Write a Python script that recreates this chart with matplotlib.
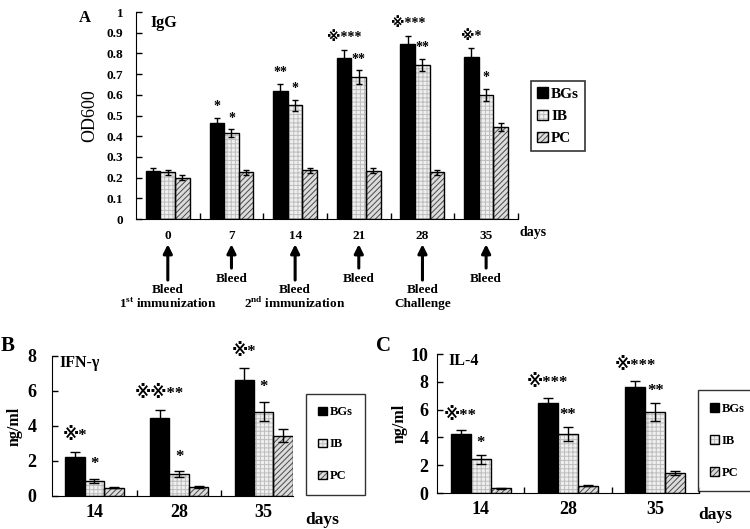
import numpy as np
import matplotlib
matplotlib.use("Agg")
import matplotlib.pyplot as plt
from matplotlib.ticker import FuncFormatter
from matplotlib.patches import Patch

plt.rcParams['font.family'] = ['Liberation Serif', 'DejaVu Sans']
plt.rcParams['font.weight'] = 'bold'
plt.rcParams['mathtext.fontset'] = 'custom'
plt.rcParams['mathtext.rm'] = 'Liberation Serif:bold'
plt.rcParams['mathtext.bf'] = 'Liberation Serif:bold'
plt.rcParams['hatch.linewidth'] = 0.7

series = ['BGs', 'IB', 'PC']

# Panel A: IgG (OD600)
days_a = ['0', '7', '14', '21', '28', '35']
igg_bgs = [0.23, 0.465, 0.62, 0.78, 0.845, 0.785]
igg_ib = [0.225, 0.415, 0.55, 0.685, 0.745, 0.60]
igg_pc = [0.20, 0.225, 0.235, 0.232, 0.225, 0.445]
igg_bgs_err = [0.015, 0.022, 0.03, 0.038, 0.04, 0.04]
igg_ib_err = [0.012, 0.02, 0.027, 0.033, 0.03, 0.03]
igg_pc_err = [0.012, 0.012, 0.012, 0.012, 0.01, 0.02]
igg_bgs_sig = ['', '*', '**', '※***', '※***', '※*']
igg_ib_sig = ['', '*', '*', '**', '**', '*']
events_top = ['Bleed', 'Bleed', 'Bleed', 'Bleed', 'Bleed', 'Bleed']
events_bottom = [r'1$^{\rm st}$ immunization', '', r'2$^{\rm nd}$ immunization', '', 'Challenge', '']

# Panel B: IFN-gamma
days_bc = ['14', '28', '35']
ifn_bgs = [2.25, 4.48, 6.63]
ifn_ib = [0.85, 1.24, 4.82]
ifn_pc = [0.48, 0.52, 3.45]
ifn_bgs_err = [0.26, 0.43, 0.68]
ifn_ib_err = [0.13, 0.16, 0.55]
ifn_pc_err = [0.04, 0.05, 0.36]
ifn_bgs_sig = ['※*', '※※**', '※*']
ifn_ib_sig = ['*', '*', '*']

# Panel C: IL-4
il4_bgs = [4.22, 6.5, 7.62]
il4_ib = [2.42, 4.22, 5.82]
il4_pc = [0.33, 0.52, 1.45]
il4_bgs_err = [0.28, 0.35, 0.45]
il4_ib_err = [0.3, 0.5, 0.62]
il4_pc_err = [0.03, 0.04, 0.15]
il4_bgs_sig = ['※**', '※***', '※***']
il4_ib_sig = ['*', '**', '**']

BW = 0.23
IB_FACE = '#efefef'
IB_HATCH_COL = '#bdbdbd'
IB_HATCH = '++++'
PC_FACE = '#dcdcdc'
PC_HATCH_COL = '#4a4a4a'
PC_HATCH = '//////'


def draw_bars(ax, vals, errs, lw_err=1.0, cap=3):
    x = np.arange(len(vals[0]))
    ax.bar(x - BW, vals[0], BW, color='black', edgecolor='black', lw=1, zorder=2)
    ax.bar(x, vals[1], BW, color=IB_FACE, edgecolor=IB_HATCH_COL, hatch=IB_HATCH, lw=0, zorder=2)
    ax.bar(x, vals[1], BW, fill=False, edgecolor='black', lw=1, zorder=3)
    ax.bar(x + BW, vals[2], BW, color=PC_FACE, edgecolor=PC_HATCH_COL, hatch=PC_HATCH, lw=0, zorder=2)
    ax.bar(x + BW, vals[2], BW, fill=False, edgecolor='black', lw=1, zorder=3)
    for off, v, e in zip([-BW, 0, BW], vals, errs):
        ax.errorbar(x + off, v, yerr=e, fmt='none', ecolor='black', elinewidth=lw_err,
                    capsize=cap, capthick=lw_err, zorder=4)
    return x


def legend_handles():
    return [Patch(facecolor='black', edgecolor='black'),
            (Patch(facecolor=IB_FACE, edgecolor=IB_HATCH_COL, hatch=IB_HATCH, lw=0),
             Patch(fill=False, edgecolor='black', lw=1)),
            (Patch(facecolor=PC_FACE, edgecolor=PC_HATCH_COL, hatch=PC_HATCH, lw=0),
             Patch(fill=False, edgecolor='black', lw=1))]


def style_axes(ax, ypad):
    for s in ['top', 'right']:
        ax.spines[s].set_visible(False)
    ax.tick_params(axis='y', direction='in', length=4, width=1, pad=ypad)
    ax.tick_params(axis='x', which='major', length=0)
    ax.tick_params(axis='x', which='minor', direction='in', length=4, width=1)


def annotate_sig(ax, x, vals, errs, labels, off, dy_pts, fs):
    for xi, v, e, lab in zip(x, vals, errs, labels):
        if lab:
            ax.annotate(lab, (xi + off, v + e), xytext=(0, dy_pts), textcoords='offset points',
                        ha='center', va='bottom', fontsize=fs, fontweight='bold',
                        family=['Liberation Serif', 'DejaVu Sans'])


def make_legend(ax, anchor, fs, spacing, pad, lw):
    leg = ax.legend(legend_handles(), series, loc='upper left', bbox_to_anchor=anchor,
                    frameon=True, fancybox=False, edgecolor='black', fontsize=fs,
                    handlelength=0.7, handleheight=0.7, handletextpad=0.2, labelspacing=spacing,
                    borderpad=pad, borderaxespad=0)
    leg.get_frame().set_linewidth(lw)
    for t in leg.get_texts():
        t.set_fontweight('bold')
    return leg


fig = plt.figure(figsize=(7.5, 5.29), dpi=100)

# ---------------- Panel A ----------------
axA = fig.add_axes([0.1813, 0.586, 0.5093, 0.3913])
x = draw_bars(axA, [igg_bgs, igg_ib, igg_pc], [igg_bgs_err, igg_ib_err, igg_pc_err], cap=2.5)
style_axes(axA, 9)
axA.set_xlim(-0.5, 5.5)
axA.set_ylim(0, 1.0)
axA.set_yticks(np.arange(0, 1.01, 0.1))
axA.yaxis.set_major_formatter(FuncFormatter(lambda v, p: '%g' % round(v, 2)))
axA.set_xticks(x)
axA.set_xticklabels(days_a, fontsize=9.5, fontweight='bold')
axA.set_xticks(np.arange(0.5, 5.6, 1.0), minor=True)
axA.tick_params(axis='x', which='major', pad=8)
for lab in axA.get_yticklabels():
    lab.set_fontsize(9.5)
    lab.set_fontweight('bold')
axA.set_ylabel('OD600', fontsize=13, fontweight='normal', labelpad=6)
axA.text(0.037, 0.985, 'IgG', transform=axA.transAxes, ha='left', va='top', fontsize=11.5, fontweight='bold')
axA.text(1.005, -0.063, 'days', transform=axA.transAxes, ha='left', va='center', fontsize=10, fontweight='bold')
annotate_sig(axA, x, igg_bgs, igg_bgs_err, igg_bgs_sig, -BW, 4, 10)
annotate_sig(axA, x, igg_ib, igg_ib_err, igg_ib_sig, 0, 3, 10)
make_legend(axA, (1.035, 0.665), 11, 0.55, 0.4, 1.2)

# event arrows
for i in range(len(days_a)):
    long_arrow = events_bottom[i] != ''
    y_end = -0.295 if long_arrow else -0.237
    axA.annotate('', xy=(x[i], -0.122), xycoords=('data', 'axes fraction'),
                 xytext=(x[i], y_end), textcoords=('data', 'axes fraction'),
                 arrowprops=dict(arrowstyle='-|>', lw=2.2, color='black', mutation_scale=13,
                                 shrinkA=0, shrinkB=0))
    if long_arrow:
        axA.text(x[i], -0.345, events_top[i], transform=axA.get_xaxis_transform(),
                 ha='center', va='center', fontsize=9.5, fontweight='bold')
        axA.text(x[i], -0.41, events_bottom[i], transform=axA.get_xaxis_transform(),
                 ha='center', va='center', fontsize=9.5, fontweight='bold')
    else:
        axA.text(x[i], -0.29, events_top[i], transform=axA.get_xaxis_transform(),
                 ha='center', va='center', fontsize=9.5, fontweight='bold')

fig.text(0.113, 0.982, 'A', ha='center', va='top', fontsize=12, fontweight='bold')

# ---------------- Panel B ----------------
axB = fig.add_axes([0.0693, 0.0624, 0.3213, 0.2647])
x = draw_bars(axB, [ifn_bgs, ifn_ib, ifn_pc], [ifn_bgs_err, ifn_ib_err, ifn_pc_err], cap=3.5)
style_axes(axB, 11)
axB.set_xlim(-0.5, 2.345)
axB.set_ylim(0, 8)
axB.set_yticks([0, 2, 4, 6, 8])
axB.set_xticks(x)
axB.set_xticklabels(days_bc, fontsize=13, fontweight='bold')
axB.set_xticks([0.5, 1.5], minor=True)
axB.tick_params(axis='x', which='major', pad=6)
for lab in axB.get_yticklabels():
    lab.set_fontsize(13)
    lab.set_fontweight('bold')
axB.set_ylabel('ng/ml', fontsize=11.5, fontweight='bold', labelpad=4)
axB.text(0.033, 1.005, 'IFN-γ', transform=axB.transAxes, ha='left', va='top', fontsize=11.5, fontweight='bold')
axB.text(1.05, -0.171, 'days', transform=axB.transAxes, ha='left', va='center', fontsize=12.5, fontweight='bold')
annotate_sig(axB, x, ifn_bgs, ifn_bgs_err, ifn_bgs_sig, -BW, 6, 12)
annotate_sig(axB, x, ifn_ib, ifn_ib_err, ifn_ib_sig, 0, 5, 12)
make_legend(axB, (1.054, 0.729), 9, 1.6, 1.0, 1.0)
fig.text(0.01, 0.365, 'B', ha='center', va='top', fontsize=15, fontweight='bold')

# ---------------- Panel C ----------------
axC = fig.add_axes([0.5827, 0.068, 0.3493, 0.2628])
x = draw_bars(axC, [il4_bgs, il4_ib, il4_pc], [il4_bgs_err, il4_ib_err, il4_pc_err], cap=3.5)
style_axes(axC, 6)
axC.set_xlim(-0.5, 2.5)
axC.set_ylim(0, 10)
axC.set_yticks([0, 2, 4, 6, 8, 10])
axC.set_xticks(x)
axC.set_xticklabels(days_bc, fontsize=13, fontweight='bold')
axC.set_xticks([0.5, 1.5, 2.5], minor=True)
axC.tick_params(axis='x', which='major', pad=6)
for lab in axC.get_yticklabels():
    lab.set_fontsize(13)
    lab.set_fontweight('bold')
axC.set_ylabel('ng/ml', fontsize=11.5, fontweight='bold', labelpad=2)
axC.text(0.042, 1.007, 'IL-4', transform=axC.transAxes, ha='left', va='top', fontsize=11.5, fontweight='bold')
axC.text(0.996, -0.158, 'days', transform=axC.transAxes, ha='left', va='center', fontsize=12.5, fontweight='bold')
annotate_sig(axC, x, il4_bgs, il4_bgs_err, il4_bgs_sig, -BW, 5, 12)
annotate_sig(axC, x, il4_ib, il4_ib_err, il4_ib_sig, 0, 3, 12)
make_legend(axC, (0.996, 0.741), 9, 1.6, 1.0, 1.0)
fig.text(0.511, 0.365, 'C', ha='center', va='top', fontsize=15, fontweight='bold')

fig.savefig('out.png', dpi=100)
